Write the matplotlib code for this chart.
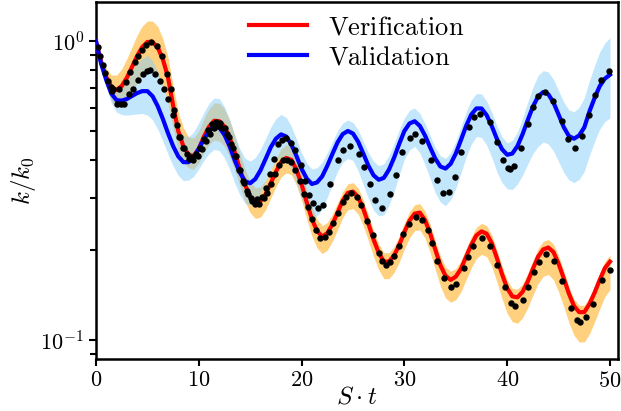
import numpy as np
import matplotlib
matplotlib.use("Agg")
import matplotlib.pyplot as plt
from matplotlib.ticker import NullFormatter

plt.rcParams['font.family'] = 'serif'
plt.rcParams['font.serif'] = ['cmr10', 'DejaVu Serif']
plt.rcParams['mathtext.fontset'] = 'cm'
plt.rcParams['axes.formatter.use_mathtext'] = True

# ---- model curves on a 0.5 grid of S*t ----
t_line = np.arange(0, 50.01, 0.5)
verification = [
    1.000, 0.851, 0.759, 0.703, 0.687, 0.708, 0.755, 0.820, 0.893, 0.957,
    0.995, 0.995, 0.955, 0.871, 0.759, 0.610, 0.501, 0.445, 0.417, 0.413,
    0.437, 0.480, 0.518, 0.542, 0.540, 0.518, 0.476, 0.425, 0.373, 0.331,
    0.302, 0.289, 0.292, 0.308, 0.335, 0.366, 0.394, 0.407, 0.401, 0.372,
    0.332, 0.289, 0.254, 0.232, 0.222, 0.228, 0.244, 0.267, 0.293, 0.311,
    0.314, 0.301, 0.275, 0.245, 0.217, 0.196, 0.183, 0.183, 0.192, 0.208,
    0.230, 0.251, 0.265, 0.267, 0.252, 0.228, 0.201, 0.178, 0.164, 0.159,
    0.163, 0.173, 0.190, 0.208, 0.224, 0.231, 0.227, 0.211, 0.188, 0.166,
    0.149, 0.140, 0.139, 0.145, 0.157, 0.173, 0.190, 0.201, 0.204, 0.197,
    0.180, 0.161, 0.143, 0.130, 0.124, 0.124, 0.132, 0.144, 0.159, 0.174,
    0.183]
validation = [
    1.000, 0.841, 0.741, 0.668, 0.635, 0.633, 0.641, 0.656, 0.671, 0.681,
    0.681, 0.655, 0.607, 0.550, 0.493, 0.446, 0.412, 0.394, 0.394, 0.409,
    0.437, 0.470, 0.500, 0.518, 0.514, 0.486, 0.445, 0.399, 0.363, 0.340,
    0.335, 0.346, 0.370, 0.404, 0.442, 0.472, 0.488, 0.480, 0.452, 0.413,
    0.374, 0.347, 0.333, 0.337, 0.353, 0.383, 0.420, 0.459, 0.489, 0.501,
    0.491, 0.461, 0.421, 0.383, 0.356, 0.344, 0.349, 0.372, 0.408, 0.454,
    0.501, 0.531, 0.540, 0.521, 0.484, 0.442, 0.405, 0.381, 0.375, 0.389,
    0.421, 0.467, 0.520, 0.568, 0.596, 0.596, 0.566, 0.520, 0.471, 0.435,
    0.417, 0.421, 0.446, 0.489, 0.545, 0.604, 0.653, 0.676, 0.665, 0.624,
    0.568, 0.516, 0.482, 0.472, 0.484, 0.515, 0.582, 0.646, 0.708, 0.750,
    0.773]

# ---- uncertainty bands: widths above / below each curve, in decades ----
verif_up_dex = [
    0, .015, .030, .040, .050, .057, .064, .067, .070, .070,
    .070, .070, .070, .069, .067, .066, .064, .062, .060, .060,
    .060, .060, .060, .060, .060, .059, .057, .056, .054, .052,
    .050, .049, .047, .046, .044, .044, .044, .044, .044, .042,
    .040, .040, .040, .039, .037, .036, .034, .032, .030, .030,
    .030, .030, .030, .030, .030, .030, .030, .030, .030, .030,
    .030, .030, .030, .030, .030, .030, .030, .030, .030, .029,
    .027, .027, .027, .027, .027, .027, .027, .027, .027, .027,
    .027, .027, .027, .027, .027, .027, .027, .027, .027, .027,
    .027, .025, .023, .023, .023, .023, .023, .023, .023, .023,
    .023]
verif_lo_dex = [
    0, .017, .034, .047, .060, .070, .080, .085, .090, .094,
    .097, .097, .097, .092, .087, .077, .067, .055, .044, .045,
    .047, .054, .060, .064, .067, .066, .064, .060, .057, .055,
    .054, .054, .054, .052, .050, .050, .050, .050, .050, .052,
    .054, .056, .057, .057, .057, .057, .057, .057, .057, .057,
    .057, .057, .057, .057, .057, .057, .057, .057, .057, .057,
    .057, .057, .057, .058, .060, .064, .067, .070, .074, .075,
    .077, .077, .077, .077, .077, .077, .077, .078, .080, .082,
    .084, .085, .087, .087, .087, .088, .090, .090, .090, .092,
    .094, .095, .097, .098, .100, .100, .100, .098, .097, .095,
    .094]
valid_up_dex = [
    0, .010, .020, .032, .044, .059, .074, .087, .100, .110,
    .120, .119, .117, .112, .107, .100, .094, .089, .084, .085,
    .087, .090, .094, .096, .097, .094, .090, .085, .080, .077,
    .074, .072, .070, .068, .067, .067, .067, .064, .060, .057,
    .054, .052, .050, .049, .047, .044, .040, .039, .037, .037,
    .037, .039, .040, .044, .047, .047, .047, .047, .047, .046,
    .044, .044, .044, .042, .040, .039, .037, .036, .034, .037,
    .040, .044, .047, .049, .050, .049, .047, .046, .044, .042,
    .040, .044, .047, .054, .060, .065, .070, .072, .074, .077,
    .080, .084, .087, .090, .094, .099, .104, .109, .114, .119,
    .124]
valid_lo_dex = [
    0, .012, .023, .032, .040, .047, .054, .062, .070, .075,
    .080, .079, .077, .074, .070, .067, .064, .062, .060, .064,
    .067, .071, .074, .076, .077, .077, .077, .076, .074, .074,
    .074, .074, .074, .074, .074, .074, .074, .079, .084, .092,
    .100, .107, .114, .112, .110, .105, .100, .097, .094, .092,
    .090, .097, .104, .110, .117, .121, .124, .119, .114, .104,
    .094, .089, .084, .090, .097, .105, .114, .119, .124, .120,
    .117, .110, .104, .099, .094, .097, .100, .105, .110, .112,
    .114, .120, .127, .137, .147, .157, .167, .167, .167, .162,
    .157, .152, .147, .147, .147, .147, .147, .145, .144, .144,
    .144]

# ---- data points ----
verif_t = [0.15, 0.65, 0.9, 1.45, 1.7, 2.25, 2.9, 3.35, 3.8, 4.1, 4.45, 4.9, 5.35,
           5.9, 6.4, 6.9, 7.25, 7.6, 7.9, 8.2, 8.55, 8.9, 9.3, 9.7, 10.1, 10.5,
           10.9, 11.3, 11.7, 12.1, 12.5, 12.9, 13.3, 13.6, 14.0, 14.4, 14.8, 15.2,
           15.5, 15.9, 16.3, 16.6, 17.0, 17.4, 17.8, 18.2, 18.6, 19.0, 19.4, 19.8,
           20.25, 20.65, 21.0, 21.4, 21.8, 22.3, 22.7, 23.1, 23.5, 24.0, 24.3,
           24.8, 25.4, 25.8, 26.4, 26.9, 27.5, 27.8, 28.2, 28.6, 29.0, 29.5, 29.9,
           30.4, 31.1, 31.7, 32.3, 32.7, 33.2, 33.85, 34.5, 35.0, 35.8, 36.2, 36.7,
           37.5, 38.3, 39.0, 39.8, 40.4, 40.8, 41.5, 42.0, 42.6, 43.1, 43.8, 44.6,
           45.3, 46.2, 46.8, 47.1, 47.7, 48.3, 49.25, 49.97]
verif_k = [0.955, 0.835, 0.785, 0.705, 0.690, 0.690, 0.730, 0.790, 0.850, 0.895,
           0.938, 0.975, 0.995, 0.965, 0.890, 0.780, 0.690, 0.590, 0.525, 0.478,
           0.440, 0.418, 0.410, 0.418, 0.440, 0.472, 0.505, 0.528, 0.536, 0.532,
           0.512, 0.480, 0.440, 0.412, 0.370, 0.335, 0.308, 0.292, 0.285, 0.286,
           0.298, 0.310, 0.333, 0.360, 0.385, 0.400, 0.402, 0.395, 0.372, 0.342,
           0.308, 0.279, 0.255, 0.234, 0.220, 0.222, 0.230, 0.247, 0.267, 0.290,
           0.302, 0.310, 0.302, 0.283, 0.251, 0.225, 0.195, 0.184, 0.178, 0.183,
           0.191, 0.207, 0.226, 0.244, 0.258, 0.252, 0.233, 0.212, 0.184, 0.161,
           0.151, 0.154, 0.174, 0.189, 0.207, 0.220, 0.206, 0.179, 0.150, 0.133,
           0.130, 0.136, 0.151, 0.169, 0.182, 0.194, 0.184, 0.158, 0.128, 0.117,
           0.115, 0.119, 0.132, 0.159, 0.171]
valid_t = [0.4, 1.15, 1.6, 2.07, 2.4, 2.72, 3.24, 3.63, 4.1, 4.54, 4.93, 5.3, 5.7,
           6.2, 6.6, 7.05, 7.5, 8.1, 8.5, 9.0, 9.4, 9.9, 10.3, 10.7, 11.1, 11.5,
           11.9, 12.3, 12.7, 13.1, 13.5, 13.9, 14.3, 14.7, 15.1, 15.7, 16.1, 16.5,
           16.9, 17.3, 17.7, 18.1, 18.5, 19.0, 19.4, 19.9, 20.3, 20.7, 21.1, 21.6,
           22.1, 22.8, 23.57, 24.06, 24.7, 25.6, 26.1, 26.65, 27.1, 27.8, 28.6,
           29.2, 29.8, 30.5, 31.0, 31.7, 32.6, 33.2, 33.8, 34.3, 34.9, 35.5, 36.3,
           36.8, 37.4, 38.3, 39.0, 39.6, 40.05, 40.3, 40.7, 41.3, 42.0, 42.5, 43.0,
           43.7, 44.5, 45.3, 45.9, 46.6, 47.3, 47.96, 48.5, 49.1, 49.9]
valid_k = [0.890, 0.735, 0.680, 0.619, 0.615, 0.619, 0.665, 0.695, 0.741, 0.776,
           0.796, 0.804, 0.776, 0.735, 0.690, 0.640, 0.565, 0.480, 0.438, 0.405,
           0.400, 0.412, 0.435, 0.462, 0.490, 0.512, 0.520, 0.512, 0.488, 0.452,
           0.412, 0.372, 0.340, 0.315, 0.300, 0.296, 0.302, 0.322, 0.360, 0.405,
           0.453, 0.468, 0.473, 0.457, 0.434, 0.385, 0.340, 0.305, 0.287, 0.276,
           0.283, 0.334, 0.400, 0.432, 0.447, 0.421, 0.380, 0.334, 0.294, 0.276,
           0.309, 0.356, 0.426, 0.473, 0.488, 0.463, 0.402, 0.343, 0.310, 0.312,
           0.352, 0.426, 0.517, 0.556, 0.573, 0.535, 0.461, 0.400, 0.377, 0.373,
           0.383, 0.440, 0.527, 0.603, 0.655, 0.677, 0.631, 0.540, 0.470, 0.438,
           0.481, 0.566, 0.660, 0.744, 0.794]

labels = ['Verification', 'Validation']

verif = np.array(verification)
valid = np.array(validation)

fig = plt.figure(figsize=(6.21, 4.11), dpi=100)
ax = fig.add_axes([0.1546, 0.1265, 0.8406, 0.868])

ax.fill_between(t_line, verif * 10 ** (-np.array(verif_lo_dex)),
                verif * 10 ** np.array(verif_up_dex),
                color='orange', alpha=0.5, lw=0, zorder=1)
ax.fill_between(t_line, valid * 10 ** (-np.array(valid_lo_dex)),
                valid * 10 ** np.array(valid_up_dex),
                color='lightskyblue', alpha=0.5, lw=0, zorder=1)

ax.plot(t_line, verif, color='red', lw=3, label=r'$\mathrm{%s}$' % labels[0], zorder=3)
ax.plot(t_line, valid, color='blue', lw=3, label=r'$\mathrm{%s}$' % labels[1], zorder=3)

ax.plot(verif_t, verif_k, 'o', color='black', ms=4.6, mew=0, zorder=4)
ax.plot(valid_t, valid_k, 'o', color='black', ms=4.6, mew=0, zorder=4)

ax.set_yscale('log')
ax.set_xlim(0, 50.78)
ax.set_ylim(0.0864, 1.351)
ax.set_xticks([0, 10, 20, 30, 40, 50])
ax.yaxis.set_minor_formatter(NullFormatter())

for s in ax.spines.values():
    s.set_linewidth(1.8)
ax.tick_params(which='both', direction='out', width=1.5, labelsize=16)
ax.tick_params(which='major', length=5)
ax.tick_params(which='minor', length=4.5)

ax.set_xlabel(r'$S\cdot t$', fontsize=18, labelpad=-3)
ax.set_ylabel(r'$k/k_0$', fontsize=18, labelpad=2)

ax.legend(loc='upper center', frameon=False, fontsize=19, handlelength=2.2,
          handletextpad=0.8, borderaxespad=0.3, borderpad=0.2, labelspacing=0.25)

fig.savefig('out.png', dpi=100)
